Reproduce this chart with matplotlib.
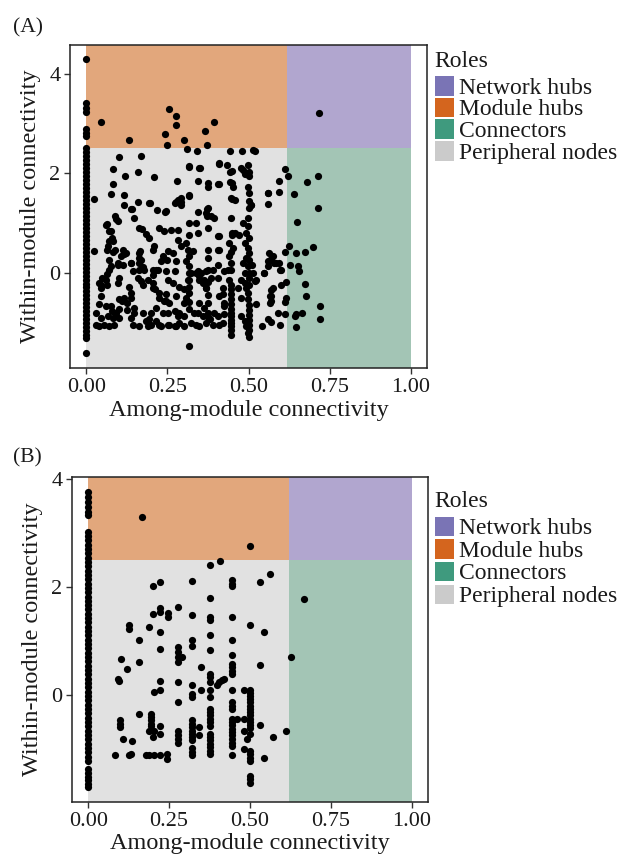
import matplotlib
matplotlib.use('Agg')
import matplotlib.pyplot as plt
from matplotlib.patches import Rectangle

plt.rcParams['font.family'] = ['Liberation Serif', 'DejaVu Serif']

# ---------------- data ----------------
roles = ['Network hubs', 'Module hubs', 'Connectors', 'Peripheral nodes']
role_key_colors = ['#7a74b5', '#d4651e', '#3f9a7e', '#cbcbcb']
role_fill_colors = ['#b1a6cf', '#e2a77c', '#a3c5b5', '#e1e1e1']
pc_threshold = 0.62
zi_threshold = 2.5

x_ticks = [0.0, 0.25, 0.5, 0.75, 1.0]
x_tick_labels = ['0.00', '0.25', '0.50', '0.75', '1.00']
y_ticks = [0, 2, 4]
y_tick_labels = ['0', '2', '4']
x_label = 'Among-module connectivity'
y_label = 'Within-module connectivity'
panel_labels = ['(A)', '(B)']
legend_title = 'Roles'

# Panel A: nodes with zero among-module connectivity (Zi values)
a_zero_y = [4.29, 3.41, 3.31, 3.24, 2.89, 2.81, 2.75,
            2.50, 2.42, 2.34, 2.26, 2.18, 2.10, 2.02, 1.94, 1.86, 1.78, 1.70, 1.62,
            1.54, 1.46, 1.38, 1.30, 1.22, 1.14, 1.06, 0.98, 0.90, 0.82, 0.74, 0.66,
            0.58, 0.50, 0.42, 0.34, 0.26, 0.18, 0.10, 0.02, -0.06, -0.14, -0.22,
            -0.30, -0.38, -0.46, -0.54, -0.62, -0.70, -0.78, -0.86, -0.94, -1.02,
            -1.10, -1.18, -1.26, -1.31, -1.61]

# Panel A: other nodes (Pi, Zi)
a_pts = [
    (0.045, 3.04), (0.131, 2.67), (0.244, 2.79), (0.248, 2.56), (0.256, 3.29), (0.102, 2.32),
    (0.169, 2.35), (0.083, 2.08), (0.119, 1.94), (0.158, 2.02), (0.210, 1.92), (0.084, 1.78),
    (0.025, 1.49), (0.076, 1.59), (0.115, 1.57), (0.115, 1.37), (0.197, 1.40), (0.140, 1.27),
    (0.218, 1.25), (0.244, 1.22), (0.090, 1.13), (0.099, 1.03), (0.063, 0.98), (0.171, 0.88),
    (0.225, 0.90), (0.241, 0.83), (0.076, 0.83), (0.078, 0.70), (0.184, 0.78), (0.194, 0.70),
    (0.069, 0.63), (0.081, 0.63), (0.210, 0.54), (0.205, 0.46), (0.023, 0.43), (0.063, 0.46),
    (0.081, 0.41), (0.090, 0.46), (0.112, 0.46), (0.117, 0.38), (0.167, 0.43), (0.164, 0.30),
    (0.236, 0.33), (0.248, 0.26), (0.071, 0.25), (0.097, 0.16), (0.076, 0.13), (0.112, 0.16),
    (0.138, 0.19), (0.143, 0.03), (0.164, 0.19), (0.174, 0.11), (0.205, 0.05), (0.220, 0.06),
    (0.063, -0.03), (0.050, -0.11), (0.045, -0.24), (0.100, -0.11), (0.097, -0.21), (0.158, -0.11),
    (0.169, -0.17), (0.174, -0.24), (0.063, -0.24), (0.131, -0.29), (0.138, -0.41), (0.205, -0.21),
    (0.213, -0.34), (0.045, -0.48), (0.100, -0.53), (0.110, -0.58), (0.117, -0.51), (0.138, -0.51),
    (0.127, -0.61), (0.225, -0.51), (0.241, -0.58), (0.040, -0.64), (0.061, -0.68), (0.076, -0.68),
    (0.079, -0.78), (0.102, -0.74), (0.127, -0.76), (0.148, -0.71), (0.148, -0.81), (0.215, -0.71),
    (0.030, -0.81), (0.045, -0.91), (0.066, -0.88), (0.081, -0.91), (0.092, -0.88), (0.102, -0.91),
    (0.030, -1.05), (0.040, -1.08), (0.056, -1.05), (0.071, -1.08), (0.086, -1.05), (0.138, -0.91),
    (0.143, -1.05), (0.164, -1.08), (0.184, -0.98), (0.194, -0.94), (0.200, -1.05), (0.215, -0.98),
    (0.225, -1.05), (0.230, -1.08),
    (0.277, 3.16), (0.277, 2.97), (0.395, 3.04), (0.366, 2.84), (0.302, 2.67), (0.372, 2.56),
    (0.311, 2.49), (0.342, 2.44), (0.444, 2.45), (0.480, 2.44), (0.513, 2.46), (0.318, 2.12),
    (0.352, 2.10), (0.408, 2.20), (0.434, 2.17), (0.444, 2.02), (0.483, 2.07), (0.488, 1.99),
    (0.498, 2.17), (0.280, 1.84), (0.344, 1.85), (0.374, 1.73), (0.405, 1.78), (0.444, 1.82),
    (0.452, 1.73), (0.498, 1.73), (0.277, 1.43), (0.292, 1.50), (0.292, 1.37), (0.318, 1.55),
    (0.447, 1.50), (0.457, 1.47), (0.344, 1.22), (0.372, 1.28), (0.372, 1.13), (0.395, 1.10),
    (0.374, 0.90), (0.447, 1.10), (0.483, 1.00), (0.498, 1.10), (0.261, 0.86), (0.282, 0.86),
    (0.318, 1.00), (0.339, 1.00), (0.344, 0.80), (0.405, 0.73), (0.457, 0.80), (0.472, 0.76),
    (0.493, 0.80), (0.498, 0.93), (0.282, 0.66), (0.292, 0.53), (0.308, 0.60), (0.313, 0.46),
    (0.328, 0.43), (0.318, 0.33), (0.405, 0.46), (0.441, 0.60), (0.452, 0.50), (0.488, 0.60),
    (0.498, 0.50), (0.251, 0.43), (0.266, 0.40), (0.441, 0.33), (0.483, 0.19), (0.493, 0.30),
    (0.498, 0.13), (0.277, 0.23), (0.308, 0.23), (0.318, 0.13), (0.318, -0.01), (0.344, 0.03),
    (0.354, -0.01), (0.369, 0.03), (0.374, 0.06), (0.405, 0.16), (0.426, 0.03), (0.246, 0.03),
    (0.272, 0.03), (0.251, -0.14), (0.266, -0.21), (0.287, -0.28), (0.318, -0.14), (0.318, -0.28),
    (0.318, -0.41), (0.349, -0.14), (0.359, -0.21), (0.369, -0.31), (0.374, -0.18), (0.405, -0.11),
    (0.441, -0.14), (0.447, -0.24), (0.447, -0.34), (0.447, -0.44), (0.447, -0.54), (0.477, -0.14),
    (0.488, -0.21), (0.493, -0.31), (0.498, -0.41), (0.498, -0.54), (0.308, -0.51), (0.302, -0.61),
    (0.246, -0.44), (0.256, -0.61), (0.349, -0.61), (0.364, -0.71), (0.374, -0.61), (0.421, -0.44),
    (0.426, -0.61), (0.251, -0.81), (0.272, -0.78), (0.282, -0.88), (0.302, -0.88), (0.318, -0.74),
    (0.333, -0.81), (0.344, -0.81), (0.359, -0.88), (0.374, -0.81), (0.395, -0.81), (0.405, -0.88),
    (0.426, -0.84), (0.447, -0.74), (0.447, -0.88), (0.447, -1.01), (0.447, -1.15), (0.447, -1.25),
    (0.477, -0.88), (0.488, -0.98), (0.493, -1.08), (0.498, -1.21), (0.251, -1.05), (0.272, -1.08),
    (0.287, -1.01), (0.302, -1.08), (0.323, -1.01), (0.349, -1.08), (0.369, -1.01), (0.380, -0.94),
    (0.410, -1.05), (0.421, -1.01), (0.318, -1.48),
    (0.447, -0.64), (0.447, -0.81), (0.447, -0.95), (0.447, -1.08), (0.447, 0.42), (0.447, 0.20),
    (0.447, 0.05), (0.500, 1.60), (0.500, 1.45), (0.500, 1.30), (0.500, 0.70), (0.500, 0.40),
    (0.500, 0.25), (0.500, 0.00), (0.500, -0.10), (0.500, -0.25), (0.500, -0.65), (0.500, -0.75),
    (0.500, -0.85), (0.500, -0.95), (0.500, -1.05), (0.500, -1.15), (0.500, -1.30), (0.500, 1.95),
    (0.375, 0.45), (0.375, 0.30), (0.375, -0.45), (0.375, -0.90), (0.318, 0.75), (0.318, -0.60),
    (0.716, 3.21), (0.521, 2.44), (0.611, 2.09), (0.621, 1.94), (0.593, 1.84), (0.593, 1.62),
    (0.560, 1.61), (0.560, 1.38), (0.508, 1.37), (0.639, 1.58), (0.680, 1.82), (0.714, 1.95),
    (0.714, 1.30), (0.649, 1.01), (0.624, 0.53), (0.611, 0.41), (0.647, 0.40), (0.673, 0.41),
    (0.698, 0.52), (0.563, 0.40), (0.570, 0.28), (0.580, 0.19), (0.594, 0.19), (0.560, 0.14),
    (0.549, -0.01), (0.601, 0.06), (0.627, 0.16), (0.652, 0.14), (0.657, 0.03), (0.511, 0.16),
    (0.522, -0.14), (0.616, -0.19), (0.675, -0.23), (0.575, -0.31), (0.570, -0.36), (0.565, -0.48),
    (0.570, -0.58), (0.616, -0.51), (0.611, -0.60), (0.676, -0.48), (0.524, -0.64), (0.590, -0.81),
    (0.611, -0.84), (0.666, -0.81), (0.642, -0.88), (0.647, -0.84), (0.721, -0.68), (0.721, -0.93),
    (0.560, -0.93), (0.570, -1.00), (0.598, -1.05), (0.542, -1.08), (0.645, -1.09),
    # additional nodes read from the dense area
    (0.061, 0.96), (0.071, 0.83), (0.066, 0.53), (0.092, 1.07), (0.138, 1.27), (0.148, 1.10),
    (0.158, 1.43), (0.164, 0.90), (0.194, 1.40), (0.246, 1.23), (0.272, 1.40), (0.292, 1.43),
    (0.282, 1.47), (0.318, 1.57), (0.318, 2.14), (0.349, 2.10), (0.374, 1.80), (0.374, 1.30),
    (0.369, 1.20), (0.385, 1.13), (0.408, 2.19), (0.408, 1.79), (0.408, 0.73), (0.408, 0.46),
    (0.450, 2.04), (0.450, 1.80), (0.450, 1.48), (0.450, 0.80), (0.450, 0.76), (0.477, 2.10),
    (0.503, 2.02), (0.508, 1.37), (0.560, 1.60), (0.189, -1.08), (0.256, -1.05), (0.277, -1.08),
    (0.339, -1.05), (0.390, -1.05), (0.092, -0.81), (0.174, -0.81), (0.199, -0.81), (0.236, -0.81),
    (0.287, -0.81), (0.164, 0.40), (0.169, 0.26), (0.164, 0.06), (0.179, 0.06), (0.189, -0.14),
    (0.205, -0.04), (0.215, 0.06), (0.230, 0.23), (0.205, -0.31), (0.225, -0.41), (0.246, -0.58),
    (0.277, -0.48), (0.302, -0.34), (0.313, -0.14), (0.323, -0.01), (0.339, -0.01), (0.349, -0.07),
    (0.364, -0.14), (0.369, -0.31), (0.385, -0.11), (0.390, 0.06), (0.410, -0.48), (0.421, -0.31),
    (0.426, -0.68), (0.436, 0.06), (0.467, -0.31), (0.477, -0.51), (0.488, -0.01), (0.513, -0.01),
    (0.519, -0.17), (0.549, -0.01), (0.560, 0.23), (0.575, 0.33), (0.585, 0.19), (0.596, 0.06),
    (0.601, -0.24), (0.570, -0.48), (0.565, -0.61), (0.040, -0.21), (0.045, -0.31), (0.061, -0.14),
    (0.071, 0.06), (0.097, 0.19), (0.107, 0.33), (0.122, 0.40), (0.138, 0.19),
]
a_x = [p[0] for p in a_pts]
a_y = [p[1] for p in a_pts]

# Panel B: nodes with zero among-module connectivity
b_zero_y = [3.77, 3.67, 3.58, 3.49, 3.39, 3.33, 3.02, 2.95, 2.87, 2.79, 2.71, 2.63, 2.55,
            2.47, 2.39, 2.31, 2.23, 2.15, 2.07, 1.99, 1.91, 1.83, 1.75, 1.67, 1.59, 1.51,
            1.43, 1.35, 1.27, 1.19, 1.11, 1.03, 0.95, 0.87, 0.79, 0.71, 0.63, 0.55, 0.47,
            0.39, 0.31, 0.23, 0.15, 0.07, -0.01, -0.09, -0.17, -0.25, -0.33, -0.41, -0.49,
            -0.57, -0.65, -0.73, -0.81, -0.89, -0.97, -1.05, -1.13, -1.21,
            -1.36, -1.43, -1.50, -1.57, -1.64, -1.70]

b_pts = [
    (0.166, 3.30), (0.199, 2.02), (0.222, 2.10), (0.322, 2.11), (0.279, 1.64), (0.199, 1.51),
    (0.222, 1.62), (0.222, 1.55), (0.247, 1.52), (0.247, 1.46), (0.322, 1.48), (0.127, 1.30),
    (0.127, 1.23), (0.187, 1.27), (0.222, 1.17), (0.156, 1.02), (0.222, 0.86), (0.322, 1.02),
    (0.322, 0.91), (0.279, 0.89), (0.279, 0.80), (0.279, 0.71), (0.279, 0.62), (0.291, 0.71),
    (0.102, 0.68), (0.120, 0.49), (0.156, 0.62), (0.348, 0.52), (0.091, 0.31), (0.096, 0.27),
    (0.222, 0.27), (0.222, 0.11), (0.204, 0.06), (0.279, 0.25), (0.279, -0.12), (0.322, 0.19),
    (0.322, 0.03), (0.322, -0.03), (0.348, 0.11),
    (0.156, -0.34), (0.099, -0.46), (0.099, -0.52), (0.099, -0.59), (0.194, -0.34), (0.194, -0.40),
    (0.194, -0.46), (0.194, -0.52), (0.194, -0.56), (0.188, -0.65), (0.204, -0.65), (0.222, -0.56),
    (0.222, -0.71), (0.199, -0.77), (0.107, -0.80), (0.134, -0.85), (0.279, -0.65), (0.279, -0.73),
    (0.279, -0.80), (0.279, -0.88), (0.322, -0.46), (0.322, -0.52), (0.322, -0.59), (0.322, -0.65),
    (0.322, -0.71), (0.322, -0.77), (0.322, -0.83), (0.322, -0.98), (0.322, -1.04), (0.322, -1.11),
    (0.343, -0.59), (0.343, -0.73), (0.084, -1.11), (0.125, -1.11), (0.132, -1.08), (0.178, -1.10),
    (0.189, -1.11), (0.204, -1.11), (0.222, -1.10), (0.245, -1.08), (0.245, -1.17),
    (0.376, 2.41), (0.376, 1.81), (0.376, 1.45), (0.376, 1.39), (0.376, 1.11), (0.376, 0.85),
    (0.376, 0.40), (0.376, 0.34), (0.376, 0.25), (0.376, 0.11), (0.376, -0.03), (0.376, -0.25),
    (0.376, -0.31), (0.376, -0.37), (0.376, -0.43), (0.376, -0.49), (0.376, -0.56), (0.376, -0.71),
    (0.376, -0.77), (0.376, -0.83), (0.376, -0.89), (0.376, -0.96), (0.376, -1.02), (0.376, -1.08),
    (0.407, 2.49), (0.404, 0.25), (0.412, 0.29), (0.419, 0.31), (0.399, 0.19),
    (0.445, 2.13), (0.445, 2.07), (0.445, 2.02), (0.445, 1.46), (0.445, 1.02), (0.445, 0.74),
    (0.445, 0.59), (0.445, 0.52), (0.445, 0.46), (0.445, 0.40), (0.445, 0.11), (0.445, -0.12),
    (0.445, -0.19), (0.445, -0.25), (0.445, -0.43), (0.445, -0.49), (0.445, -0.55), (0.445, -0.62),
    (0.445, -0.68), (0.445, -0.74), (0.445, -0.80), (0.445, -0.87), (0.445, -0.93), (0.445, -1.11),
    (0.460, -0.43), (0.481, 0.11), (0.481, -0.43), (0.481, -0.65), (0.481, -0.99), (0.491, -0.80),
    (0.500, 2.76), (0.500, 1.30), (0.500, 0.11), (0.500, 0.05), (0.500, -0.01), (0.500, -0.07),
    (0.500, -0.13), (0.500, -0.19), (0.500, -0.25), (0.500, -0.31), (0.500, -0.37), (0.500, -0.43),
    (0.500, -0.49), (0.500, -0.55), (0.500, -0.61), (0.500, -0.71), (0.500, -1.02), (0.500, -1.08),
    (0.500, -1.15), (0.500, -1.21), (0.500, -1.48), (0.500, -1.54), (0.500, -1.61),
    (0.532, 2.10), (0.561, 2.25), (0.543, 1.17), (0.532, 0.56), (0.627, 0.72), (0.532, -0.54),
    (0.571, -0.77), (0.612, -0.65), (0.543, -1.16), (0.668, 1.79),
]
b_x = [p[0] for p in b_pts]
b_y = [p[1] for p in b_pts]

panels = [
    dict(zero_y=a_zero_y, x=a_x, y=a_y, ylim=(-1.92, 4.58)),
    dict(zero_y=b_zero_y, x=b_x, y=b_y, ylim=(-1.97, 4.04)),
]

# ---------------- layout (pixels) ----------------
W, H = 624, 856
fig = plt.figure(figsize=(W / 100, H / 100), dpi=100)
fig.patch.set_facecolor('white')


def fx(px):
    return px / W


def fy(py):
    return 1 - py / H


axes_px = [(70, 45, 427, 368), (72, 477, 428, 802)]
label_px = [(13, 18), (13, 448)]
legend_layout = [
    dict(title_base=67, key_tops=[76, 97.7, 119.4, 141.1], key_h=19.5),
    dict(title_base=507, key_tops=[516.7, 539.3, 561.9, 584.5], key_h=19.5),
]

for i, (p, (l, t, r, b)) in enumerate(zip(panels, axes_px)):
    ax = fig.add_axes([fx(l), fy(b), (r - l) / W, (b - t) / H])
    ax.set_xlim(-0.05, 1.05)
    ax.set_ylim(*p['ylim'])
    y0, y1 = p['ylim']
    rects = {
        'Network hubs': (pc_threshold, 1.0, zi_threshold, y1),
        'Module hubs': (0.0, pc_threshold, zi_threshold, y1),
        'Connectors': (pc_threshold, 1.0, y0, zi_threshold),
        'Peripheral nodes': (0.0, pc_threshold, y0, zi_threshold),
    }
    for role, col in zip(roles, role_fill_colors):
        xa, xb, ya, yb = rects[role]
        ax.add_patch(Rectangle((xa, ya), xb - xa, yb - ya, facecolor=col,
                               edgecolor='none', zorder=1))
    ax.scatter([0.0] * len(p['zero_y']), p['zero_y'], s=27, c='black',
               linewidths=0, zorder=3)
    ax.scatter(p['x'], p['y'], s=27, c='black', linewidths=0, zorder=3)

    ax.set_xticks(x_ticks)
    ax.set_xticklabels(x_tick_labels)
    ax.set_yticks(y_ticks)
    ax.set_yticklabels(y_tick_labels)
    ax.tick_params(direction='out', length=4, width=1, color='#333333',
                   labelsize=16, pad=3, labelcolor='#1a1a1a')
    for s in ax.spines.values():
        s.set_linewidth(1.1)
        s.set_color('#222222')
    ax.set_xlabel(x_label, fontsize=17.5, labelpad=2, color='#1a1a1a')
    ax.set_ylabel(y_label, fontsize=17.5, labelpad=6, color='#1a1a1a')

    fig.text(fx(label_px[i][0]), fy(label_px[i][1]), panel_labels[i],
             fontsize=15.5, va='top', ha='left', color='#1a1a1a')

    lg = legend_layout[i]
    fig.text(fx(434), fy(lg['title_base']), legend_title, fontsize=17,
             va='baseline', ha='left', color='#1a1a1a')
    for role, col, top in zip(roles, role_key_colors, lg['key_tops']):
        fig.patches.append(Rectangle((fx(435), fy(top + lg['key_h'])),
                                     19 / W, lg['key_h'] / H, facecolor=col,
                                     edgecolor='none', transform=fig.transFigure,
                                     figure=fig))
        fig.text(fx(459), fy(top + 17.5), role, fontsize=17, va='baseline',
                 ha='left', color='#1a1a1a')

fig.savefig('out.png', dpi=100, facecolor='white')
